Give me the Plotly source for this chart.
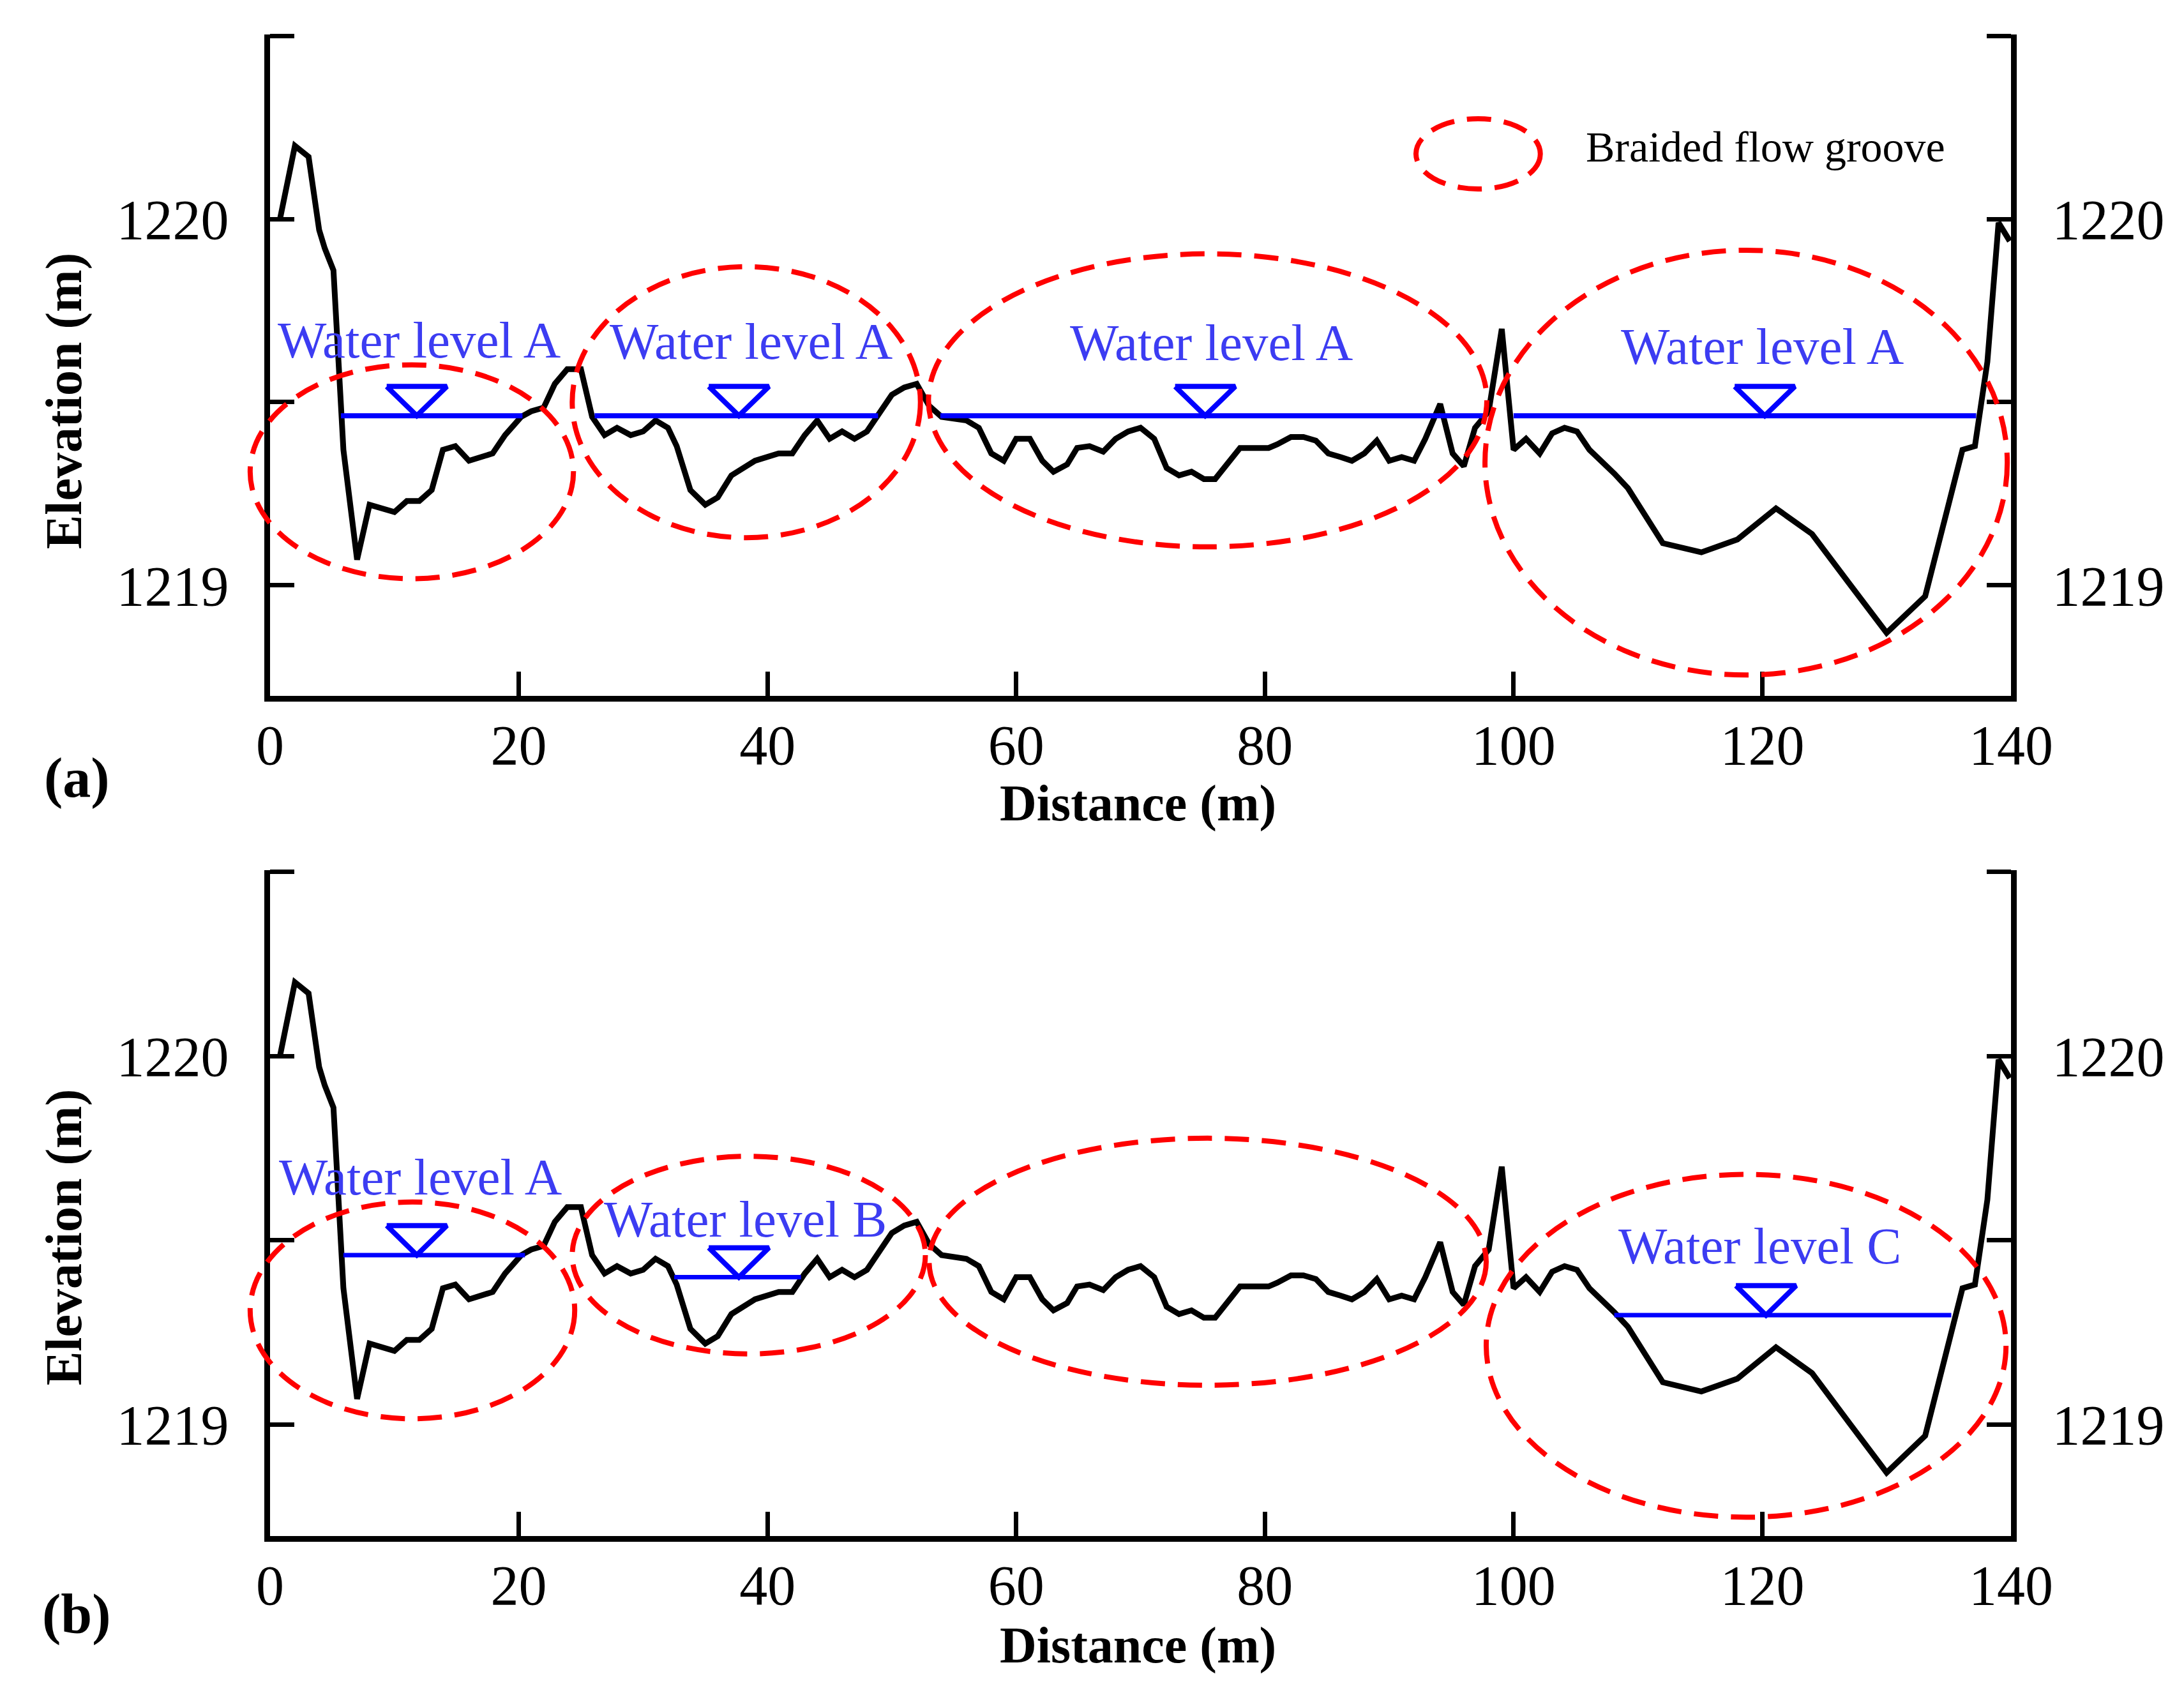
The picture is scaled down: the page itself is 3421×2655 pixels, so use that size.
import plotly.graph_objects as go

# ---------------- data ----------------
dist = [0.8, 2.0, 3.1, 3.95, 4.4, 5.1, 5.9, 6.3, 7.0, 8.0,
        10.0, 11.0, 12.0, 13.0, 13.9, 14.9, 16.0, 17.9, 18.9, 20.2,
        21.0, 22.0, 22.9, 23.9, 25.0, 25.9, 26.9, 27.9, 29.0, 30.0,
        31.0, 32.0, 32.7, 33.8, 35.0, 36.0, 37.1, 39.0, 40.9, 42.0,
        43.0, 44.0, 45.0, 46.0, 47.0, 48.0, 49.0, 50.0, 51.0, 52.0,
        53.0, 54.0, 56.0, 57.0, 58.0, 59.0, 60.0, 61.1, 62.1, 63.0,
        64.1, 64.9, 65.9, 67.0, 68.0, 69.0, 70.0, 71.1, 72.1, 73.1,
        74.1, 75.1, 76.0, 78.0, 80.3, 81.0, 82.1, 83.1, 84.1, 85.1,
        86.1, 87.0, 88.0, 89.0, 90.0, 91.0, 92.0, 92.9, 94.1, 95.1,
        96.0, 96.9, 98.0, 99.05, 100.0, 101.0, 102.1, 103.1, 104.1, 105.1,
        106.1, 107.1, 108.1, 109.2, 112.0, 115.1, 118.0, 121.1, 124.0, 127.1,
        130.0, 133.1, 136.1, 137.1, 138.1, 139.0, 139.9]
elev = [1220.00, 1220.20, 1220.17, 1219.97, 1219.92, 1219.86, 1219.37, 1219.26, 1219.07, 1219.22,
        1219.20, 1219.23, 1219.23, 1219.26, 1219.37, 1219.38, 1219.34, 1219.36, 1219.41, 1219.46,
        1219.475, 1219.485, 1219.55, 1219.59, 1219.59, 1219.46, 1219.41, 1219.43, 1219.41, 1219.42,
        1219.45, 1219.43, 1219.38, 1219.26, 1219.22, 1219.24, 1219.30, 1219.34, 1219.36, 1219.36,
        1219.41, 1219.45, 1219.40, 1219.42, 1219.40, 1219.42, 1219.47, 1219.52, 1219.54, 1219.55,
        1219.49, 1219.46, 1219.45, 1219.43, 1219.36, 1219.34, 1219.40, 1219.40, 1219.34, 1219.31,
        1219.33, 1219.375, 1219.38, 1219.365, 1219.40, 1219.42, 1219.43, 1219.40, 1219.32, 1219.30,
        1219.31, 1219.29, 1219.29, 1219.375, 1219.375, 1219.385, 1219.405, 1219.405, 1219.395, 1219.36,
        1219.35, 1219.34, 1219.36, 1219.395, 1219.34, 1219.35, 1219.34, 1219.40, 1219.495, 1219.36,
        1219.325, 1219.43, 1219.475, 1219.70, 1219.37, 1219.40, 1219.36, 1219.415, 1219.43, 1219.42,
        1219.37, 1219.34, 1219.305, 1219.265, 1219.115, 1219.09, 1219.125, 1219.21, 1219.14, 1219.00,
        1218.87, 1218.97, 1219.37, 1219.38, 1219.61, 1219.99, 1219.94]

x_ticks = [0, 20, 40, 60, 80, 100, 120, 140]
y_ticks = [1219, 1219.5, 1220, 1220.5]
y_ticktext = ["1219", "", "1220", ""]

# panel (a) water levels
wl_a_start = [5.7, 26.1, 53.9, 100.0]
wl_a_end = [20.3, 48.9, 97.8, 137.2]
wl_a_level = [1219.463, 1219.463, 1219.463, 1219.463]
wl_a_mark = [11.8, 37.7, 75.2, 120.2]
wl_a_text = ["Water level A", "Water level A", "Water level A", "Water level A"]
wl_a_text_x = [12.0, 38.7, 75.7, 120.0]
wl_a_text_y = [1219.617, 1219.613, 1219.61, 1219.60]

# panel (b) water levels
wl_b_start = [5.9, 32.5, 108.1]
wl_b_end = [20.5, 42.7, 135.2]
wl_b_level = [1219.46, 1219.40, 1219.297]
wl_b_mark = [11.8, 37.7, 120.3]
wl_b_text = ["Water level A", "Water level B", "Water level C"]
wl_b_text_x = [12.1, 38.2, 119.8]
wl_b_text_y = [1219.619, 1219.506, 1219.433]

# braided flow groove ellipses (centre x, centre y, half width, half height)
grv_a_cx = [11.4, 38.3, 75.4, 118.7]
grv_a_cy = [1219.31, 1219.50, 1219.505, 1219.335]
grv_a_rx = [13.0, 14.0, 22.45, 21.0]
grv_a_ry = [0.292, 0.37, 0.40, 0.58]

grv_b_cx = [11.45, 38.5, 75.4, 118.7]
grv_b_cy = [1219.31, 1219.46, 1219.442, 1219.214]
grv_b_rx = [13.05, 14.2, 22.4, 20.9]
grv_b_ry = [0.294, 0.268, 0.335, 0.465]

legend_cx, legend_cy, legend_rx, legend_ry = 97.15, 1220.178, 5.0, 0.096
legend_label = "Braided flow groove"

# ---------------- style ----------------
W, H = 3421, 2655
FONT = "Liberation Serif"
BLUE_LINE = "#0000ff"
BLUE_TEXT = "#3c3cf2"
RED = "#ff0000"
TRI_HW, TRI_H = 2.42, 0.08
Y_RANGE = [1218.698, 1220.504]
X_RANGE = [0, 140]

XDOM = [415 / W, 3142 / W]
DOM_A = [1 - 1082 / H, 1 - 46 / H]
DOM_B = [1 - 2398 / H, 1 - 1355 / H]
# wider, invisible x axes with the same scale, so ellipses may poke past the left axis
XDOM_WIDE = [0.0, XDOM[1]]
X_RANGE_WIDE = [X_RANGE[1] - (X_RANGE[1] - X_RANGE[0]) * (XDOM_WIDE[1] - XDOM_WIDE[0]) / (XDOM[1] - XDOM[0]),
                X_RANGE[1]]

fig = go.Figure()


def add_panel(xa, ya, starts, ends, levels, marks, wl_width):
    fig.add_trace(go.Scatter(x=dist, y=elev, mode="lines", xaxis=xa, yaxis=ya,
                             line=dict(color="black", width=9), showlegend=False,
                             hoverinfo="skip"))
    lx, ly = [], []
    for s, e, l in zip(starts, ends, levels):
        lx += [s, e, None]
        ly += [l, l, None]
    fig.add_trace(go.Scatter(x=lx, y=ly, mode="lines", xaxis=xa, yaxis=ya,
                             line=dict(color=BLUE_LINE, width=wl_width), showlegend=False,
                             hoverinfo="skip"))
    tx, ty = [], []
    for m, l in zip(marks, levels):
        tx += [m - TRI_HW, m + TRI_HW, m, m - TRI_HW, None]
        ty += [l + TRI_H, l + TRI_H, l, l + TRI_H, None]
    fig.add_trace(go.Scatter(x=tx, y=ty, mode="lines", xaxis=xa, yaxis=ya,
                             line=dict(color=BLUE_LINE, width=8), showlegend=False,
                             hoverinfo="skip"))


# invisible anchors for helper and right-hand axes (added first so they sit underneath)
for xa, ya in [("x3", "y"), ("x4", "y2"), ("x", "y3"), ("x2", "y4")]:
    fig.add_trace(go.Scatter(x=[None], y=[None], xaxis=xa, yaxis=ya, showlegend=False,
                             hoverinfo="skip"))

add_panel("x", "y", wl_a_start, wl_a_end, wl_a_level, wl_a_mark, 8)
add_panel("x2", "y2", wl_b_start, wl_b_end, wl_b_level, wl_b_mark, 7)

shapes = []
ell_line = dict(color=RED, width=8, dash="38px,20px")
for cx, cy, rx, ry in zip(grv_a_cx, grv_a_cy, grv_a_rx, grv_a_ry):
    shapes.append(dict(type="circle", xref="x3", yref="y", x0=cx - rx, x1=cx + rx,
                       y0=cy - ry, y1=cy + ry, line=ell_line, layer="above"))
for cx, cy, rx, ry in zip(grv_b_cx, grv_b_cy, grv_b_rx, grv_b_ry):
    shapes.append(dict(type="circle", xref="x4", yref="y2", x0=cx - rx, x1=cx + rx,
                       y0=cy - ry, y1=cy + ry, line=ell_line, layer="above"))
shapes.append(dict(type="circle", xref="x", yref="y", x0=legend_cx - legend_rx,
                   x1=legend_cx + legend_rx, y0=legend_cy - legend_ry,
                   y1=legend_cy + legend_ry, line=ell_line, layer="above"))

annotations = []
wl_font = dict(family=FONT, size=81, color=BLUE_TEXT)
for t, x, y in zip(wl_a_text, wl_a_text_x, wl_a_text_y):
    annotations.append(dict(text=t, x=x, y=y - 0.03, xref="x", yref="y", showarrow=False,
                            xanchor="center", yanchor="bottom", font=wl_font))
for t, x, y in zip(wl_b_text, wl_b_text_x, wl_b_text_y):
    annotations.append(dict(text=t, x=x, y=y - 0.03, xref="x2", yref="y2", showarrow=False,
                            xanchor="center", yanchor="bottom", font=wl_font))
annotations.append(dict(text=legend_label, x=105.7, y=legend_cy + 0.02, xref="x", yref="y",
                        showarrow=False, xanchor="left", yanchor="middle",
                        font=dict(family=FONT, size=68, color="black")))

title_font = dict(family=FONT, size=80, color="black", weight="bold")
for yc in [620, 1930]:
    annotations.append(dict(text="Elevation (m)", x=92 / W, y=1 - yc / H, xref="paper",
                            yref="paper", showarrow=False, textangle=-90,
                            xanchor="center", yanchor="middle", font=title_font))
for yc in [1250, 2569]:
    annotations.append(dict(text="Distance (m)", x=1775 / W, y=1 - yc / H, xref="paper",
                            yref="paper", showarrow=False, xanchor="center",
                            yanchor="middle", font=title_font))
for lab, yc in [("(a)", 1210), ("(b)", 2520)]:
    annotations.append(dict(text=lab, x=112 / W, y=1 - yc / H, xref="paper", yref="paper",
                            showarrow=False, xanchor="center", yanchor="middle",
                            font=dict(family=FONT, size=88, color="black", weight="bold")))

tickfont = dict(family=FONT, size=88, color="black")
xcommon = dict(range=X_RANGE, tickvals=x_ticks, ticks="inside", ticklen=38, tickwidth=7,
               tickcolor="black", showline=True, linewidth=9, linecolor="black",
               showgrid=False, zeroline=False, tickfont=tickfont, domain=XDOM,
               ticklabelstandoff=-8, automargin=False, fixedrange=True)
ycommon = dict(range=Y_RANGE, tickvals=y_ticks, ticktext=y_ticktext, ticks="inside",
               ticklen=38, tickwidth=7, tickcolor="black", showline=True, linewidth=9,
               linecolor="black", showgrid=False, zeroline=False, tickfont=tickfont,
               ticklabelstandoff=38, automargin=False, fixedrange=True)
xhelper = dict(range=X_RANGE_WIDE, domain=XDOM_WIDE, visible=False, showgrid=False,
               zeroline=False, automargin=False, fixedrange=True)

fig.update_layout(
    width=W, height=H, autosize=False,
    margin=dict(l=0, r=0, t=0, b=0, pad=0),
    paper_bgcolor="white", plot_bgcolor="rgba(0,0,0,0)",
    showlegend=False,
    xaxis=dict(**xcommon, anchor="y"),
    xaxis2=dict(**xcommon, anchor="y2"),
    xaxis3=dict(**xhelper, anchor="y"),
    xaxis4=dict(**xhelper, anchor="y2"),
    yaxis=dict(**ycommon, domain=DOM_A, anchor="x", side="left"),
    yaxis2=dict(**ycommon, domain=DOM_B, anchor="x2", side="left"),
    yaxis3=dict(**ycommon, overlaying="y", anchor="x", side="right"),
    yaxis4=dict(**ycommon, overlaying="y2", anchor="x2", side="right"),
    shapes=shapes,
    annotations=annotations,
)

fig.write_html("out.html")
